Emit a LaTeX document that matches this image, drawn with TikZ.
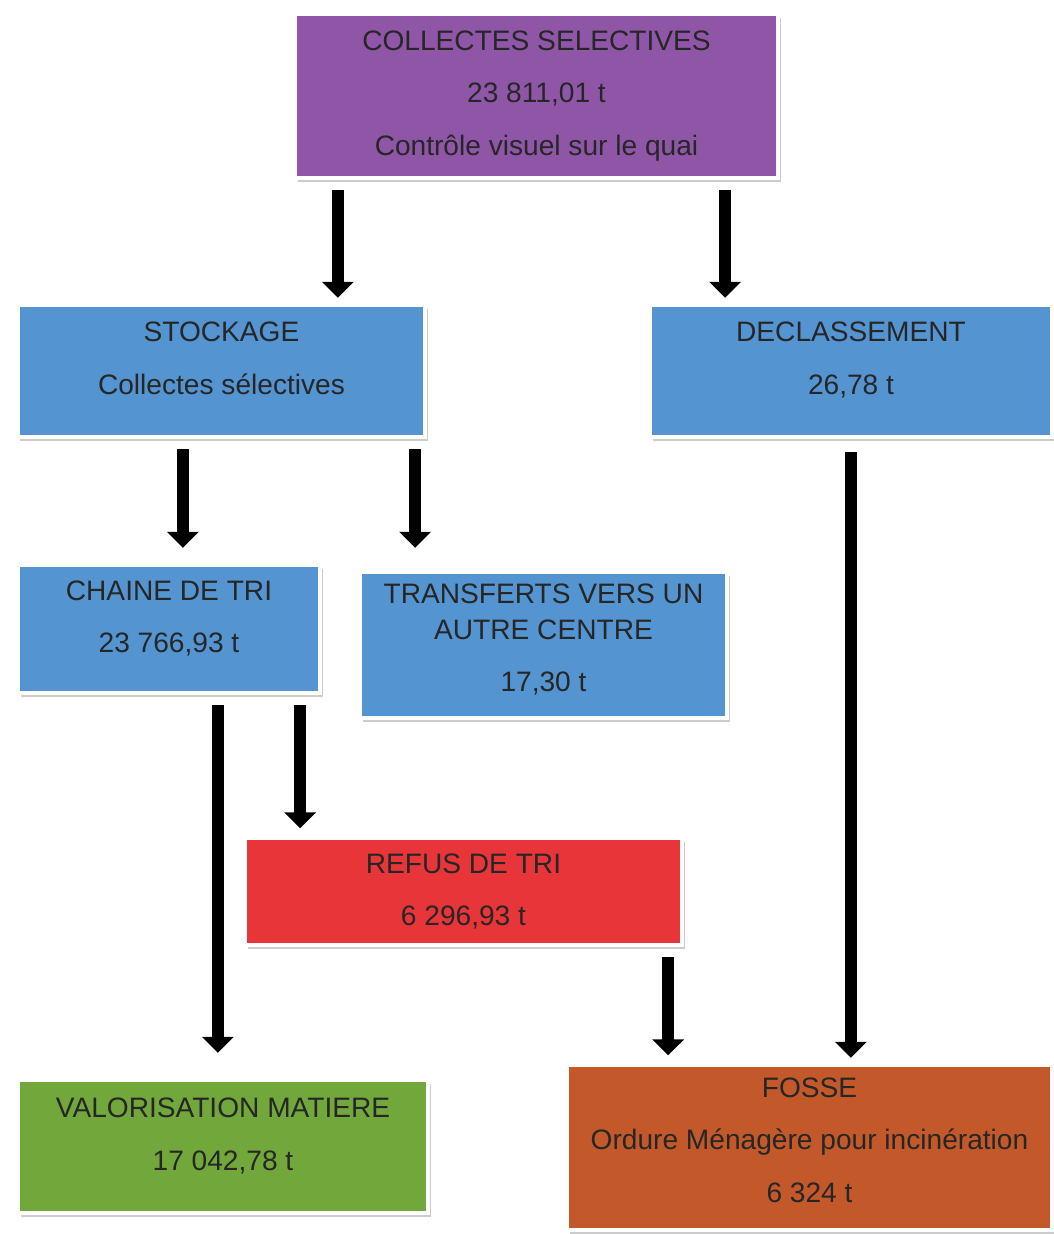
\documentclass[tikz,border=0pt]{standalone}
\usepackage{fontspec}
\setmainfont{Liberation Sans}
\usepackage{tikz}
\usetikzlibrary{arrows.meta}
\usetikzlibrary{shadows}
\definecolor{collectcolor}{HTML}{8F56A8}
\definecolor{stockcolor}{HTML}{5494D0}
\definecolor{refuscolor}{HTML}{E8353A}
\definecolor{valocolor}{HTML}{72A83B}
\definecolor{fossecolor}{HTML}{C3592A}

\begin{document}
\begin{tikzpicture}
    \tikzstyle{box}=[
      rectangle,
      draw=white,
      line width=2.5pt,
      align=center,
      text=black!85,
      inner sep=2pt,
      font=\fontsize{16}{20}\selectfont,
      drop shadow={shadow xshift=0.05cm,shadow yshift=-0.08cm,opacity=0.4},
    ]
    \tikzstyle{flow}=[line width=7pt,draw=black,-{Triangle[width=0.62cm,length=0.32cm]},
      shorten <=0.2cm,shorten >=0.15cm]

    \useasboundingbox[fill=white] (0,0) rectangle (21.08,-24.68);

    \node[box,fill=collectcolor,minimum width=9.66cm,minimum height=3.28cm] (collectes) at (10.73,-1.92)
      {COLLECTES SELECTIVES\\[0.35cm]23 811,01 t\\[0.35cm]Contrôle visuel sur le quai};
    \node[box,fill=stockcolor,minimum width=8.14cm,minimum height=2.64cm,text depth=0.5cm] (stockage) at (4.43,-7.42)
      {STOCKAGE\\[0.35cm]Collectes sélectives};
    \node[box,fill=stockcolor,minimum width=8.04cm,minimum height=2.64cm,text depth=0.5cm] (declass) at (17.02,-7.42)
      {DECLASSEMENT\\[0.35cm]26,78 t};
    \node[box,fill=stockcolor,minimum width=6.04cm,minimum height=2.56cm,text depth=0.5cm] (chaine) at (3.38,-12.58)
      {CHAINE DE TRI\\[0.35cm]23 766,93 t};
    \node[box,fill=stockcolor,minimum width=7.34cm,minimum height=2.92cm,text depth=0.28cm] (transf) at (10.87,-12.9)
      {TRANSFERTS VERS UN\\AUTRE CENTRE\\[0.35cm]17,30 t};
    \node[box,fill=refuscolor,minimum width=8.74cm,minimum height=2.14cm] (refus) at (9.27,-17.83)
      {REFUS DE TRI\\[0.35cm]6 296,93 t};
    \node[box,fill=valocolor,minimum width=8.2cm,minimum height=2.66cm,text depth=0.5cm] (valo) at (4.46,-22.93)
      {VALORISATION MATIERE\\[0.35cm]17 042,78 t};
    \node[box,fill=fossecolor,minimum width=9.7cm,minimum height=3.3cm,text depth=0.3cm] (fosse) at (16.19,-22.95)
      {FOSSE\\[0.35cm]Ordure Ménagère pour incinération\\[0.35cm]6 324 t};

    \coordinate (c1) at ([xshift=0.9cm]collectes.south west);
    \coordinate (c2) at ([xshift=-1.1cm]collectes.south east);
    \coordinate (s1) at ([xshift=3.34cm]stockage.south west);
    \coordinate (s2) at ([xshift=-0.24cm]stockage.south east);
    \coordinate (d1) at ([xshift=4.06cm]declass.south west);
    \coordinate (t1) at ([xshift=4.04cm]chaine.south west);
    \coordinate (t2) at ([xshift=-0.44cm]chaine.south east);
    \coordinate (r1) at ([xshift=-0.32cm]refus.south east);

    \draw[flow,shorten >=0.1cm] (c1) -- (c1 |- stockage.north);
    \draw[flow,shorten >=0.1cm] (c2) -- (c2 |- declass.north);
    \draw[flow,shorten >=0.3cm] (s1) -- (s1 |- chaine.north);
    \draw[flow,shorten >=0.44cm] (s2) -- (s2 |- transf.north);
    \draw[flow,shorten <=0.26cm,shorten >=0.1cm] (d1) -- (d1 |- fosse.north);
    \draw[flow,shorten >=0.5cm] (t1) -- (t1 |- valo.north);
    \draw[flow] (t2) -- (t2 |- refus.north);
    \draw[flow] (r1) -- (r1 |- fosse.north);
  \end{tikzpicture}
\end{document}
